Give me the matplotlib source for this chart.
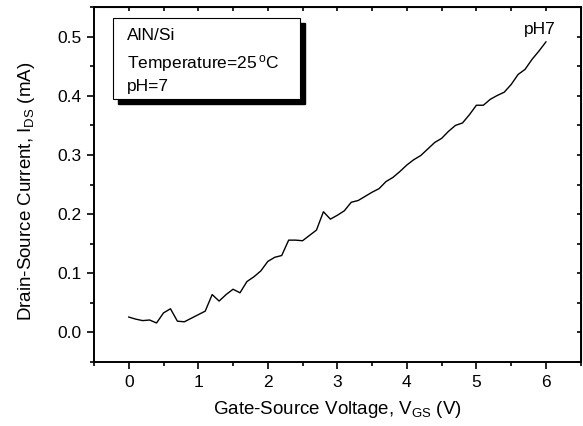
import matplotlib.pyplot as plt
import numpy as np
from matplotlib.patches import Rectangle
from matplotlib.ticker import MultipleLocator

plt.rcParams['font.family'] = ['Liberation Sans', 'DejaVu Sans']
plt.rcParams['mathtext.default'] = 'regular'

# gate-source voltage (V), 0..6 in 0.1 V steps
vgs = np.round(np.arange(0, 6.01, 0.1), 1)
# drain-source current (mA)
ids = [0.026, 0.0225, 0.020, 0.021, 0.016, 0.033, 0.040, 0.019, 0.018, 0.024,
       0.030, 0.036, 0.064, 0.053, 0.064, 0.073, 0.067, 0.086, 0.094, 0.104,
       0.120, 0.127, 0.130, 0.156, 0.156, 0.155, 0.164, 0.173, 0.204, 0.1915,
       0.198, 0.2055, 0.220, 0.223, 0.230, 0.237, 0.243, 0.255, 0.262, 0.272,
       0.283, 0.292, 0.299, 0.310, 0.321, 0.328, 0.340, 0.350, 0.354, 0.368,
       0.384, 0.384, 0.394, 0.4005, 0.406, 0.419, 0.436, 0.4446, 0.4615, 0.4756,
       0.491]
info_lines = ['AlN/Si', 'Temperature=25$^{\\,o}$C', 'pH=7']

fig = plt.figure(figsize=(5.83, 4.26), dpi=100)
ax = fig.add_axes([0.1612, 0.1502, 0.8348, 0.8333])

ax.plot(vgs, ids, color='black', lw=1.0)
ax.text(5.91, 0.512, 'pH7', fontsize=12.5, ha='center', va='center')

ax.set_xlim(-0.5, 6.5)
ax.set_ylim(-0.05, 0.55)
ax.xaxis.set_major_locator(MultipleLocator(1))
ax.xaxis.set_minor_locator(MultipleLocator(0.5))
ax.yaxis.set_major_locator(MultipleLocator(0.1))
ax.yaxis.set_minor_locator(MultipleLocator(0.05))
ax.yaxis.set_major_formatter(plt.FormatStrFormatter('%.1f'))
ax.tick_params(which='both', direction='out', width=1.2, labelsize=12.5,
               top=False, right=False)
ax.tick_params(which='major', length=5, pad=4)
ax.tick_params(which='minor', length=3)
for s in ax.spines.values():
    s.set_linewidth(1.4)

# inward ticks on the top and right edges
sec_x = ax.secondary_xaxis('top')
sec_x.xaxis.set_major_locator(MultipleLocator(0.5))
sec_x.tick_params(direction='in', length=3, width=1.2, labeltop=False)
sec_y = ax.secondary_yaxis('right')
sec_y.yaxis.set_major_locator(MultipleLocator(0.05))
sec_y.tick_params(direction='in', length=3, width=1.2, labelright=False)

ax.set_xlabel('Gate-Source Voltage, V$_{GS}$ (V)', fontsize=13.5)
ax.set_ylabel('Drain-Source Current, I$_{DS}$ (mA)', fontsize=13.5)
ax.xaxis.set_label_coords(0.5, -0.105)
ax.yaxis.set_label_coords(-0.118, 0.48)

# info box with drop shadow
bx, by, bw, bh = 0.039, 0.741, 0.384, 0.228
dx, dy = 0.011, 0.015
ax.add_patch(Rectangle((bx + dx, by - dy), bw, bh, transform=ax.transAxes,
                       facecolor='black', edgecolor='black', zorder=4))
ax.add_patch(Rectangle((bx, by), bw, bh, transform=ax.transAxes,
                       facecolor='white', edgecolor='black', lw=0.8, zorder=5))
for txt, yy in zip(info_lines, [0.921, 0.842, 0.775]):
    ax.text(0.068, yy, txt, transform=ax.transAxes, fontsize=12.5,
            va='center', ha='left', zorder=6)

fig.savefig('out.png', dpi=100)
